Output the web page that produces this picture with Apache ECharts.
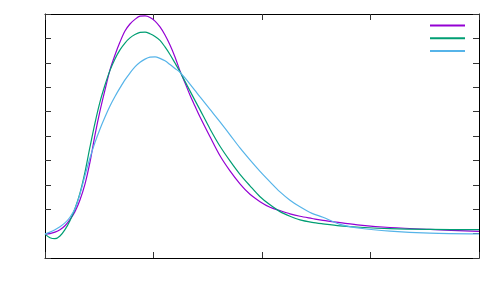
<!DOCTYPE html>
<html>
<head>
<meta charset="utf-8">
<script src="https://cdn.jsdelivr.net/npm/echarts@6/dist/echarts.min.js"></script>
<style>html,body{margin:0;padding:0;background:#fff;}#c{width:500px;height:300px;}</style>
</head>
<body>
<div id="c"></div>
<script>
var xs = [0,0.046,0.092,0.138,0.184,0.230,0.276,0.323,0.369,0.415,0.461,0.507,0.553,0.599,0.645,0.691,0.737,0.783,0.829,0.876,0.922,0.968,1.014,1.060,1.106,1.152,1.198,1.244,1.290,1.336,1.382,1.429,1.521,1.613,1.705,1.797,1.889,1.982,2.074,2.166,2.258,2.350,2.461,2.562,2.719,2.903,3.180,3.548,4.0];
var purpleY = [0.98,1.00,1.06,1.16,1.32,1.57,1.90,2.39,3.04,3.94,5.05,6.03,6.89,7.71,8.32,8.85,9.30,9.59,9.78,9.91,9.92,9.86,9.71,9.47,9.14,8.73,8.24,7.67,7.18,6.68,6.23,5.78,4.97,4.19,3.57,3.04,2.61,2.31,2.08,1.94,1.81,1.71,1.62,1.54,1.45,1.35,1.25,1.17,1.09];
var greenY = [0.98,0.83,0.79,0.90,1.16,1.53,2.02,2.67,3.53,4.56,5.54,6.40,7.09,7.69,8.16,8.53,8.81,9.02,9.16,9.25,9.26,9.19,9.08,8.92,8.65,8.34,7.99,7.63,7.24,6.85,6.46,6.07,5.29,4.58,3.98,3.43,2.96,2.51,2.18,1.90,1.71,1.56,1.46,1.40,1.32,1.26,1.20,1.17,1.16];
var blueY = [0.98,1.06,1.16,1.28,1.44,1.67,2.02,2.63,3.39,4.11,4.74,5.29,5.78,6.23,6.62,6.97,7.30,7.58,7.83,8.02,8.15,8.23,8.24,8.18,8.08,7.93,7.77,7.61,7.38,7.13,6.87,6.60,6.09,5.58,5.05,4.51,4.02,3.55,3.12,2.71,2.37,2.10,1.83,1.67,1.38,1.22,1.10,1.02,0.99];
var seriesNames = ['s1','s2','s3'];
var colors = ['#9400D3','#009E73','#56B4E9'];

function pairs(x, ys){ return x.map(function(v,i){ return [v, ys[i]]; }); }

function ax(extra){
  return Object.assign({
    min: 0,
    axisLabel: {show: false},
    axisTick: {show: true, inside: true, length: 6, lineStyle: {color: '#333', width: 1}},
    axisLine: {show: true, onZero: false, lineStyle: {color: '#000', width: 1}},
    splitLine: {show: false}
  }, extra);
}

var chart = echarts.init(document.getElementById('c'));
chart.setOption({
  animation: false,
  backgroundColor: '#fff',
  grid: {left: 45, right: 21, top: 14, bottom: 42},
  legend: {
    orient: 'vertical', right: 29, top: 14, itemWidth: 35, itemHeight: 13, itemGap: 1,
    itemStyle: {opacity: 0},
    formatter: function(){ return ''; }, textStyle: {fontSize: 10}
  },
  xAxis: [
    ax({type: 'value', max: 4, interval: 1, position: 'bottom'}),
    ax({type: 'value', max: 4, interval: 1, position: 'top'})
  ],
  yAxis: [
    ax({type: 'value', max: 10, interval: 1, position: 'left'}),
    ax({type: 'value', max: 10, interval: 1, position: 'right'})
  ],
  series: [
    {name: seriesNames[0], type: 'line', symbol: 'none', smooth: 0.3, data: pairs(xs, purpleY), lineStyle: {color: colors[0], width: 1.2}, itemStyle: {color: colors[0]}},
    {name: seriesNames[1], type: 'line', symbol: 'none', smooth: 0.3, data: pairs(xs, greenY), lineStyle: {color: colors[1], width: 1.2}, itemStyle: {color: colors[1]}},
    {name: seriesNames[2], type: 'line', symbol: 'none', smooth: 0.3, data: pairs(xs, blueY), lineStyle: {color: colors[2], width: 1.2}, itemStyle: {color: colors[2]}}
  ]
});
</script>
</body>
</html>
